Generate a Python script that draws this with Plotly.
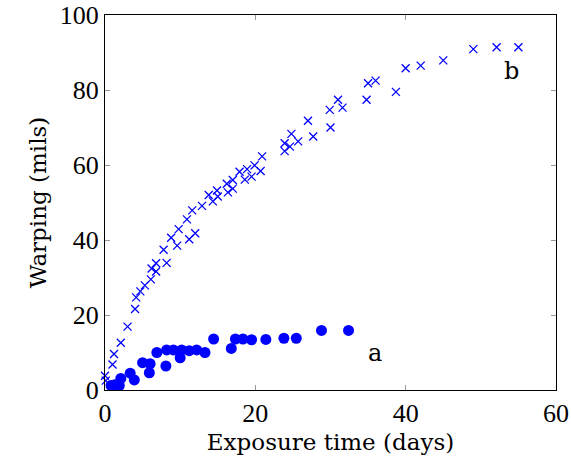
import plotly.graph_objects as go

# Series a (filled dots)
a_x = [0.8, 1.3, 1.9, 2.1, 3.35, 3.9, 5.0, 6.0, 5.9, 6.9, 8.1, 8.2, 9.1, 10.0, 10.2,
       11.2, 12.2, 13.3, 14.45, 16.8, 17.35, 18.35, 19.5, 21.4, 23.8, 25.45, 28.8, 32.4]
a_y = [1.2, 1.4, 1.2, 3.1, 4.5, 2.7, 7.3, 7.0, 4.6, 10.0, 6.4, 10.7, 10.7, 8.6, 10.7,
       10.5, 10.7, 10.0, 13.6, 11.1, 13.6, 13.6, 13.4, 13.5, 13.8, 13.8, 15.9, 15.9]

# Series b (crosses)
b_x = [0.0, 0.1, 1.0, 1.2, 2.1, 3.0, 4.0, 4.15, 4.7, 5.3, 6.1, 6.8, 6.2, 6.8, 8.2, 7.8,
       9.6, 8.8, 9.8, 11.2, 12.0, 10.9, 11.6, 12.9, 13.8, 14.35, 14.9, 15.0, 16.2, 16.35,
       17.0, 17.0, 17.9, 18.6, 18.9, 19.5, 19.9, 20.7, 20.9, 23.9, 23.9, 24.6, 24.8, 25.7,
       27.0, 27.7, 30.0, 29.9, 31.0, 31.6, 34.8, 35.0, 36.0, 38.7, 40.0, 42.0, 45.0, 49.0,
       52.1, 55.0]
b_y = [3.8, 2.5, 6.8, 9.6, 12.6, 16.9, 21.6, 24.7, 26.3, 27.9, 29.5, 31.6, 32.4, 33.8, 33.9, 37.4,
       38.5, 40.6, 42.9, 40.2, 41.8, 45.5, 47.9, 49.1, 52.0, 50.3, 53.2, 51.6, 55.0, 52.7,
       56.0, 53.7, 58.2, 56.1, 58.9, 56.9, 59.9, 58.4, 62.3, 63.7, 65.8, 64.9, 68.3, 66.3,
       71.8, 67.6, 70.0, 74.7, 77.4, 75.3, 77.4, 81.8, 82.5, 79.5, 85.8, 86.5, 87.9, 90.9,
       91.4, 91.4]

x_ticks = [0, 20, 40, 60]
y_ticks = [0, 20, 40, 60, 80, 100]

labels = ["a", "b"]
label_x = [35.9, 54.1]
label_y = [10.0, 85.2]

BLUE = "rgb(0,0,255)"
TICKFONT = "Liberation Serif"
TITLEFONT = "DejaVu Serif"

fig = go.Figure()
fig.add_trace(go.Scatter(
    x=b_x, y=b_y, mode="markers",
    marker=dict(symbol="x-thin", size=8, color=BLUE, line=dict(color=BLUE, width=1.3)),
    showlegend=False, cliponaxis=False))
fig.add_trace(go.Scatter(
    x=a_x, y=a_y, mode="markers",
    marker=dict(symbol="circle", size=11, color=BLUE),
    showlegend=False, cliponaxis=False))

for t, lx, ly in zip(labels, label_x, label_y):
    fig.add_annotation(x=lx, y=ly, text=t, showarrow=False,
                       font=dict(family=TITLEFONT, size=24, color="black"))

axis_common = dict(
    showgrid=False, zeroline=False, showline=True, linecolor="black", linewidth=1,
    mirror="ticks", ticks="inside", ticklen=5, tickcolor="#999999", tickwidth=1,
    tickfont=dict(family=TICKFONT, size=26, color="black"), automargin=False,
)
fig.update_xaxes(range=[0, 60], tickvals=x_ticks, ticktext=[str(v) for v in x_ticks],
                 title=dict(text="Exposure time (days)", font=dict(family=TITLEFONT, size=23, color="black"), standoff=6),
                 **axis_common)
fig.update_yaxes(range=[0, 100], tickvals=y_ticks, ticktext=[str(v) for v in y_ticks],
                 title=dict(text="Warping (mils)", font=dict(family=TITLEFONT, size=23, color="black"), standoff=6),
                 **axis_common)

fig.update_layout(
    width=571, height=463,
    margin=dict(l=105, r=15, t=15, b=73),
    plot_bgcolor="white", paper_bgcolor="white",
)
fig.write_html("out.html", config={"displayModeBar": False},
               post_script="document.body.style.margin='0';")
